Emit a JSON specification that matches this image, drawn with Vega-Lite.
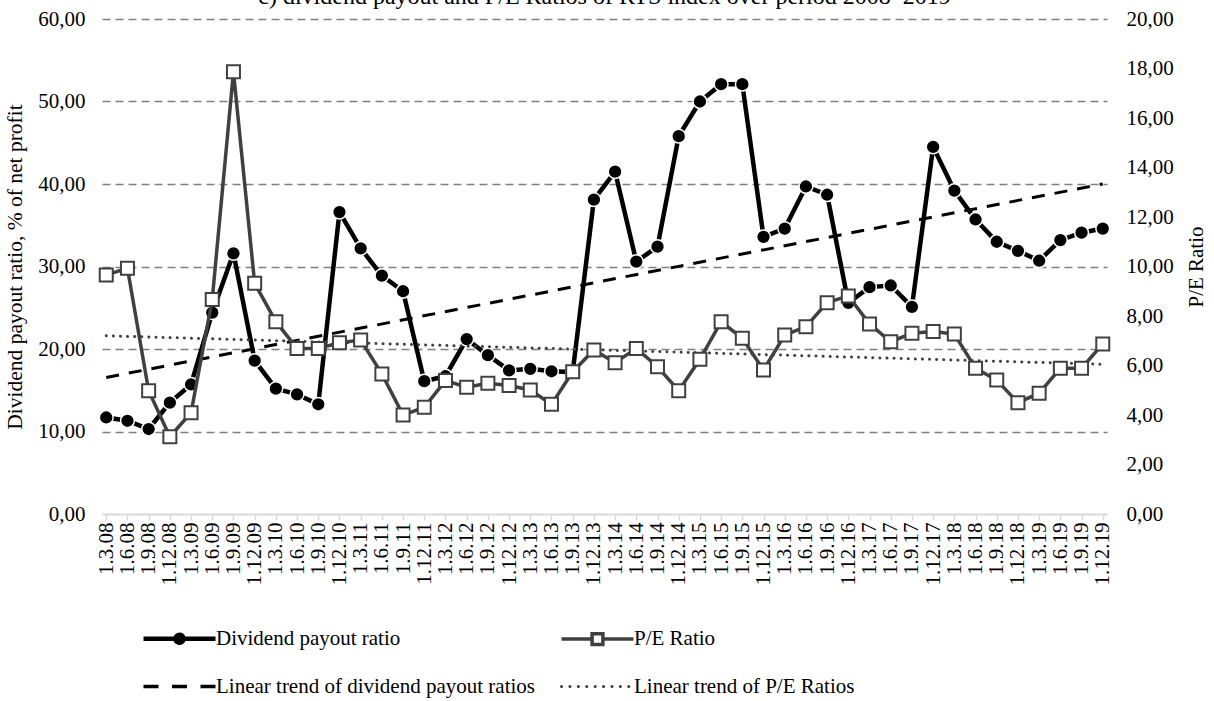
{
  "$schema": "https://vega.github.io/schema/vega-lite/v6.json",
  "width": 1005,
  "height": 495,
  "autosize": {"type": "none"},
  "padding": {"left": 102, "top": 19, "right": 107, "bottom": 187},
  "background": "white",
  "config": {"view": {"stroke": null}, "font": "Liberation Serif"},
  "title": {
    "text": "c) dividend payout and P/E Ratios of RTS index over period 2008–2019",
    "frame": "group", "anchor": "middle", "orient": "top", "offset": 0, "dy": 20, "baseline": "alphabetic",
    "font": "Liberation Serif", "fontSize": 24, "fontWeight": "normal", "color": "black"
  },
  "datasets": {
    "main": [
      {"d":"1.3.08","div":11.7,"pe":9.66},
      {"d":"1.6.08","div":11.3,"pe":9.93},
      {"d":"1.9.08","div":10.3,"pe":4.98},
      {"d":"1.12.08","div":13.5,"pe":3.12},
      {"d":"1.3.09","div":15.7,"pe":4.09},
      {"d":"1.6.09","div":24.4,"pe":8.67},
      {"d":"1.9.09","div":31.6,"pe":17.87},
      {"d":"1.12.09","div":18.6,"pe":9.32},
      {"d":"1.3.10","div":15.2,"pe":7.77},
      {"d":"1.6.10","div":14.5,"pe":6.69},
      {"d":"1.9.10","div":13.3,"pe":6.69},
      {"d":"1.12.10","div":36.6,"pe":6.92},
      {"d":"1.3.11","div":32.2,"pe":7.03},
      {"d":"1.6.11","div":28.9,"pe":5.66},
      {"d":"1.9.11","div":27.0,"pe":4.0},
      {"d":"1.12.11","div":16.1,"pe":4.31},
      {"d":"1.3.12","div":16.7,"pe":5.39},
      {"d":"1.6.12","div":21.2,"pe":5.12},
      {"d":"1.9.12","div":19.25,"pe":5.28},
      {"d":"1.12.12","div":17.4,"pe":5.19},
      {"d":"1.3.13","div":17.6,"pe":5.01},
      {"d":"1.6.13","div":17.3,"pe":4.43},
      {"d":"1.9.13","div":17.2,"pe":5.75},
      {"d":"1.12.13","div":38.1,"pe":6.63},
      {"d":"1.3.14","div":41.5,"pe":6.11},
      {"d":"1.6.14","div":30.6,"pe":6.69},
      {"d":"1.9.14","div":32.4,"pe":5.95},
      {"d":"1.12.14","div":45.8,"pe":4.98},
      {"d":"1.3.15","div":50.0,"pe":6.25},
      {"d":"1.6.15","div":52.1,"pe":7.77},
      {"d":"1.9.15","div":52.1,"pe":7.10},
      {"d":"1.12.15","div":33.6,"pe":5.82},
      {"d":"1.3.16","div":34.6,"pe":7.23},
      {"d":"1.6.16","div":39.7,"pe":7.57},
      {"d":"1.9.16","div":38.7,"pe":8.54},
      {"d":"1.12.16","div":25.6,"pe":8.81},
      {"d":"1.3.17","div":27.5,"pe":7.68},
      {"d":"1.6.17","div":27.7,"pe":6.96},
      {"d":"1.9.17","div":25.1,"pe":7.30},
      {"d":"1.12.17","div":44.5,"pe":7.37},
      {"d":"1.3.18","div":39.2,"pe":7.27},
      {"d":"1.6.18","div":35.7,"pe":5.89},
      {"d":"1.9.18","div":33.0,"pe":5.41},
      {"d":"1.12.18","div":31.9,"pe":4.50},
      {"d":"1.3.19","div":30.7,"pe":4.88},
      {"d":"1.6.19","div":33.2,"pe":5.89},
      {"d":"1.9.19","div":34.1,"pe":5.89},
      {"d":"1.12.19","div":34.6,"pe":6.87}
    ],
    "trend": [
      {"d":"1.3.08","div":16.55,"pe":7.2},
      {"d":"1.12.19","div":40.0,"pe":6.05}
    ]
  },
  "encoding": {
    "x": {
      "field": "d", "type": "ordinal",
      "scale": {"type": "point", "padding": 0.2, "domain": ["1.3.08","1.6.08","1.9.08","1.12.08","1.3.09","1.6.09","1.9.09","1.12.09","1.3.10","1.6.10","1.9.10","1.12.10","1.3.11","1.6.11","1.9.11","1.12.11","1.3.12","1.6.12","1.9.12","1.12.12","1.3.13","1.6.13","1.9.13","1.12.13","1.3.14","1.6.14","1.9.14","1.12.14","1.3.15","1.6.15","1.9.15","1.12.15","1.3.16","1.6.16","1.9.16","1.12.16","1.3.17","1.6.17","1.9.17","1.12.17","1.3.18","1.6.18","1.9.18","1.12.18","1.3.19","1.6.19","1.9.19","1.12.19"]},
      "axis": {
        "title": null, "labelAngle": -90, "labelFont": "Liberation Serif", "labelFontSize": 21, "labelColor": "black",
        "domainColor": "#d9d9d9", "domainWidth": 2, "tickColor": "#d9d9d9", "tickWidth": 1.5, "tickSize": 6,
        "labelPadding": 2, "grid": false
      }
    }
  },
  "layer": [
    {
      "encoding": {
        "y": {
          "field": "div", "type": "quantitative",
          "scale": {"domain": [0, 60], "nice": false, "zero": true},
          "axis": {
            "orient": "left", "values": [0,10,20,30,40,50,60],
            "labelExpr": "replace(format(datum.value, '.2f'), '.', ',')",
            "grid": true, "gridColor": "#808080", "gridDash": [8,5], "gridWidth": 1.5,
            "gridOpacity": {"condition": {"test": "datum.value === 0", "value": 0}, "value": 1},
            "domain": false, "ticks": false, "tickSize": 0, "labelPadding": 17,
            "labelFont": "Liberation Serif", "labelFontSize": 21, "labelColor": "black",
            "title": "Dividend payout ratio, % of net profit", "titleFont": "Liberation Serif", "titleFontSize": 21.5,
            "titleFontWeight": "normal", "titleColor": "black", "titlePadding": 11
          }
        }
      },
      "layer": [
        {
          "data": {"name": "trend"},
          "mark": {"type": "line", "strokeDash": [13,10], "strokeWidth": 3},
          "encoding": {"color": {"datum": "Linear trend of dividend payout ratios"}}
        },
        {
          "data": {"name": "main"},
          "mark": {"type": "line", "strokeWidth": 4.5},
          "encoding": {
            "color": {
              "datum": "Dividend payout ratio",
              "scale": {
                "domain": ["Dividend payout ratio", "P/E Ratio", "Linear trend of dividend payout ratios", "Linear trend of P/E Ratios"],
                "range": ["black", "#404040", "black", "#404040"]
              },
              "legend": {
                "orient": "none", "legendX": 67, "legendY": 609, "direction": "horizontal", "columns": 2,
                "title": null, "symbolSize": 5184, "labelFont": "Liberation Serif", "labelFontSize": 21,
                "labelColor": "black", "labelLimit": 600, "labelOffset": 26, "columnPadding": 19, "rowPadding": 23,
                "encode": {
                  "symbols": {
                    "update": {
                      "shape": {"signal": "datum.value === 'Dividend payout ratio' ? 'M-1,0L1,0M-0.11,0A0.11,0.11 0 1,0 0.11,0A0.11,0.11 0 1,0 -0.11,0' : datum.value === 'P/E Ratio' ? 'M-1,0L-0.15,0M0.15,0L1,0M-0.15,-0.15L0.15,-0.15L0.15,0.15L-0.15,0.15Z' : 'M-1,0L1,0'"},
                      "fill": {"signal": "datum.value === 'Dividend payout ratio' ? 'black' : datum.value === 'P/E Ratio' ? 'white' : 'transparent'"},
                      "stroke": {"signal": "datum.value === 'Dividend payout ratio' || datum.value === 'Linear trend of dividend payout ratios' ? 'black' : '#404040'"},
                      "strokeWidth": {"signal": "datum.value === 'Dividend payout ratio' ? 4.5 : datum.value === 'P/E Ratio' ? 3.5 : datum.value === 'Linear trend of dividend payout ratios' ? 3.5 : 3"},
                      "strokeDash": {"signal": "datum.value === 'Linear trend of dividend payout ratios' ? [15,13.5] : datum.value === 'Linear trend of P/E Ratios' ? [0.1,8.3] : [1,0]"},
                      "strokeCap": {"signal": "datum.value === 'Linear trend of P/E Ratios' ? 'round' : 'butt'"},
                      "opacity": {"value": 1}
                    }
                  }
                }
              }
            }
          }
        },
        {
          "data": {"name": "main"},
          "mark": {"type": "point", "shape": "circle", "filled": true, "fill": "black", "stroke": "white", "strokeWidth": 1.5, "size": 190, "opacity": 1}
        }
      ]
    },
    {
      "encoding": {
        "y": {
          "field": "pe", "type": "quantitative",
          "scale": {"domain": [0, 20], "nice": false, "zero": true},
          "axis": {
            "orient": "right", "values": [0,2,4,6,8,10,12,14,16,18,20],
            "labelExpr": "replace(format(datum.value, '.2f'), '.', ',')",
            "grid": false, "domain": false, "ticks": false, "tickSize": 0, "labelPadding": 19,
            "labelFont": "Liberation Serif", "labelFontSize": 21, "labelColor": "black",
            "title": "P/E Ratio", "titleFont": "Liberation Serif", "titleFontSize": 21, "titleAngle": -90,
            "titleFontWeight": "normal", "titleColor": "black", "titlePadding": 33
          }
        }
      },
      "layer": [
        {
          "data": {"name": "trend"},
          "mark": {"type": "line", "strokeDash": [0.1,7], "strokeCap": "round", "strokeWidth": 3},
          "encoding": {"color": {"datum": "Linear trend of P/E Ratios"}}
        },
        {
          "data": {"name": "main"},
          "mark": {"type": "line", "strokeWidth": 3.5},
          "encoding": {"color": {"datum": "P/E Ratio"}}
        },
        {
          "data": {"name": "main"},
          "mark": {"type": "point", "shape": "square", "filled": true, "fill": "white", "stroke": "#404040", "strokeWidth": 2, "size": 169, "opacity": 1}
        }
      ]
    }
  ],
  "resolve": {"scale": {"y": "independent"}}
}
